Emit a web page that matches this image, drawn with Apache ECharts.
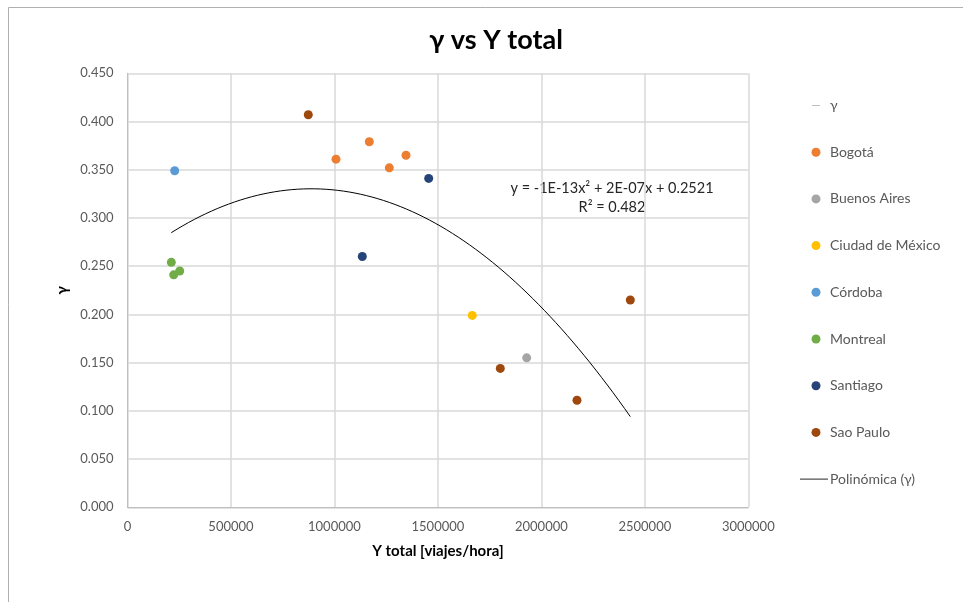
<!DOCTYPE html>
<html>
<head>
<meta charset="utf-8">
<title>γ vs Y total</title>
<script src="https://cdn.jsdelivr.net/npm/echarts@6/dist/echarts.min.js"></script>
<style>
  html, body { margin: 0; padding: 0; background: #fff; }
  #chart { width: 963px; height: 602px; }
</style>
</head>
<body>
<div id="chart"></div>
<script>
// datos: [Y total (viajes/hora), gamma]
var bogota = [[1007600, 0.361], [1168500, 0.379], [1265200, 0.352], [1345900, 0.365]];
var buenosAires = [[1929100, 0.155]];
var ciudadMexico = [[1666200, 0.199]];
var cordoba = [[228100, 0.349]];
var montreal = [[211700, 0.254], [252300, 0.245], [223300, 0.241]];
var santiago = [[1455500, 0.341], [1134700, 0.260]];
var saoPaulo = [[873700, 0.407], [1801600, 0.144], [2172200, 0.111], [2429800, 0.215]];

var cities = ['Bogotá', 'Buenos Aires', 'Ciudad de México', 'Córdoba', 'Montreal', 'Santiago', 'Sao Paulo'];
var cityData = [bogota, buenosAires, ciudadMexico, cordoba, montreal, santiago, saoPaulo];
var cityColors = ['#ED7D31', '#A5A5A5', '#FFC000', '#5B9BD5', '#70AD47', '#264478', '#9E480E'];

var xTicks = [0, 500000, 1000000, 1500000, 2000000, 2500000, 3000000];
var yTicks = [0, 0.05, 0.10, 0.15, 0.20, 0.25, 0.30, 0.35, 0.40, 0.45];

var trendText = ['y = -1E-13x\u00B2 + 2E-07x + 0.2521', 'R\u00B2 = 0.482'];

/* ajuste polinomico (grado 2) por minimos cuadrados, como la linea de tendencia de Excel */
function polyFit2(pts) {
  var s = [0, 0, 0, 0, 0], t = [0, 0, 0];
  var k = 1e6; // escalar x para evitar numeros enormes
  pts.forEach(function (p) {
    var x = p[0] / k, y = p[1];
    for (var i = 0; i < 5; i++) s[i] += Math.pow(x, i);
    for (var j = 0; j < 3; j++) t[j] += Math.pow(x, j) * y;
  });
  var m = [[s[0], s[1], s[2], t[0]], [s[1], s[2], s[3], t[1]], [s[2], s[3], s[4], t[2]]];
  for (var c = 0; c < 3; c++) {
    for (var r = c + 1; r < 3; r++) {
      var f = m[r][c] / m[c][c];
      for (var q = c; q < 4; q++) m[r][q] -= f * m[c][q];
    }
  }
  var b = [0, 0, 0];
  for (var r2 = 2; r2 >= 0; r2--) {
    var sum = m[r2][3];
    for (var q2 = r2 + 1; q2 < 3; q2++) sum -= m[r2][q2] * b[q2];
    b[r2] = sum / m[r2][r2];
  }
  return function (x) { var u = x / k; return b[0] + b[1] * u + b[2] * u * u; };
}

var allPts = [].concat.apply([], cityData);
var fit = polyFit2(allPts);
var xs = allPts.map(function (p) { return p[0]; });
var xMin = Math.min.apply(null, xs), xMax = Math.max.apply(null, xs);
var trend = [];
for (var i = 0; i <= 80; i++) {
  var xv = xMin + (xMax - xMin) * i / 80;
  trend.push([xv, fit(xv)]);
}

var chart = echarts.init(document.getElementById('chart'));

var FONT = 'Lato, "Open Sans", sans-serif';

var series = [{
  name: 'γ',
  type: 'scatter',
  data: [],
  itemStyle: { color: '#A5A5A5', opacity: 1 }
}];
cities.forEach(function (c, idx) {
  series.push({
    name: c,
    type: 'scatter',
    data: cityData[idx],
    symbolSize: 9,
    itemStyle: { color: cityColors[idx], opacity: 1 },
    z: 3
  });
});
series.push({
  name: 'Polinómica (γ)',
  type: 'line',
  data: trend,
  showSymbol: false,
  symbol: 'none',
  lineStyle: { color: '#000', width: 1 },
  itemStyle: { color: '#000' },
  z: 2
});

var legendData = [{ name: 'γ', icon: 'path://M0,0 M32,9 M12,4 L20,4 L20,5 L12,5 Z', itemStyle: { color: '#BFBFBF' } }]
  .concat(cities.map(function (c) { return { name: c, icon: 'circle', itemStyle: { opacity: 1 } }; }))
  .concat([{ name: 'Polinómica (γ)', icon: 'path://M0,0 M32,9 M0,4 L28,4 L28,5 L0,5 Z', itemStyle: { color: '#262626' } }]);

var option = {
  backgroundColor: '#fff',
  animation: false,
  textStyle: { fontFamily: FONT },
  title: {
    text: 'γ vs Y total',
    left: 491,
    textAlign: 'center',
    top: 22,
    textStyle: { fontSize: 27, fontWeight: 'bold', color: '#000', fontFamily: FONT }
  },
  grid: { left: 127.5, right: 214.7, top: 73.3, bottom: 94.7, containLabel: false },
  legend: {
    orient: 'vertical',
    left: 795,
    top: 93.5,
    itemWidth: 32,
    itemHeight: 9,
    itemGap: 32.7,
    data: legendData,
    textStyle: { fontSize: 14, color: '#595959', lineHeight: 9, padding: [0, 0, 0, -7] }
  },
  xAxis: {
    type: 'value',
    min: 0,
    max: 3000000,
    interval: 500000,
    name: 'Y total [viajes/hora]',
    nameLocation: 'middle',
    nameGap: 36,
    nameTextStyle: { fontSize: 15, fontWeight: 'bold', color: '#000' },
    axisLine: { show: true, lineStyle: { color: '#bfbfbf' } },
    axisTick: { show: false },
    axisLabel: { fontSize: 13, color: '#595959', margin: 13, formatter: function (v) { return String(v); } },
    splitLine: { show: true, lineStyle: { color: '#d9d9d9', width: 1.5 } }
  },
  yAxis: {
    type: 'value',
    min: 0,
    max: 0.45,
    interval: 0.05,
    name: 'γ',
    nameLocation: 'middle',
    nameGap: 44,
    nameTextStyle: { fontSize: 15, fontWeight: 'bold', color: '#000' },
    axisLine: { show: true, lineStyle: { color: '#bfbfbf' } },
    axisTick: { show: false },
    axisLabel: {
      fontSize: 13, color: '#595959', margin: 14,
      formatter: function (v) { return v.toFixed(3); }
    },
    splitLine: { show: true, lineStyle: { color: '#d9d9d9', width: 1.5 } }
  },
  graphic: [
    { type: 'line', shape: { x1: 8.5, y1: 7.5, x2: 963, y2: 7.5 }, style: { stroke: '#b0b0b0', lineWidth: 1 } },
    { type: 'line', shape: { x1: 8.5, y1: 7.5, x2: 8.5, y2: 602 }, style: { stroke: '#b0b0b0', lineWidth: 1 } },
    { type: 'text', style: { text: trendText[0], x: 612, y: 188, textAlign: 'center', textVerticalAlign: 'middle', fontSize: 14.5, fill: '#262626', fontFamily: FONT } },
    { type: 'text', style: { text: trendText[1], x: 612, y: 207, textAlign: 'center', textVerticalAlign: 'middle', fontSize: 14.5, fill: '#262626', fontFamily: FONT } }
  ],
  series: series
};

chart.setOption(option);
</script>
</body>
</html>
